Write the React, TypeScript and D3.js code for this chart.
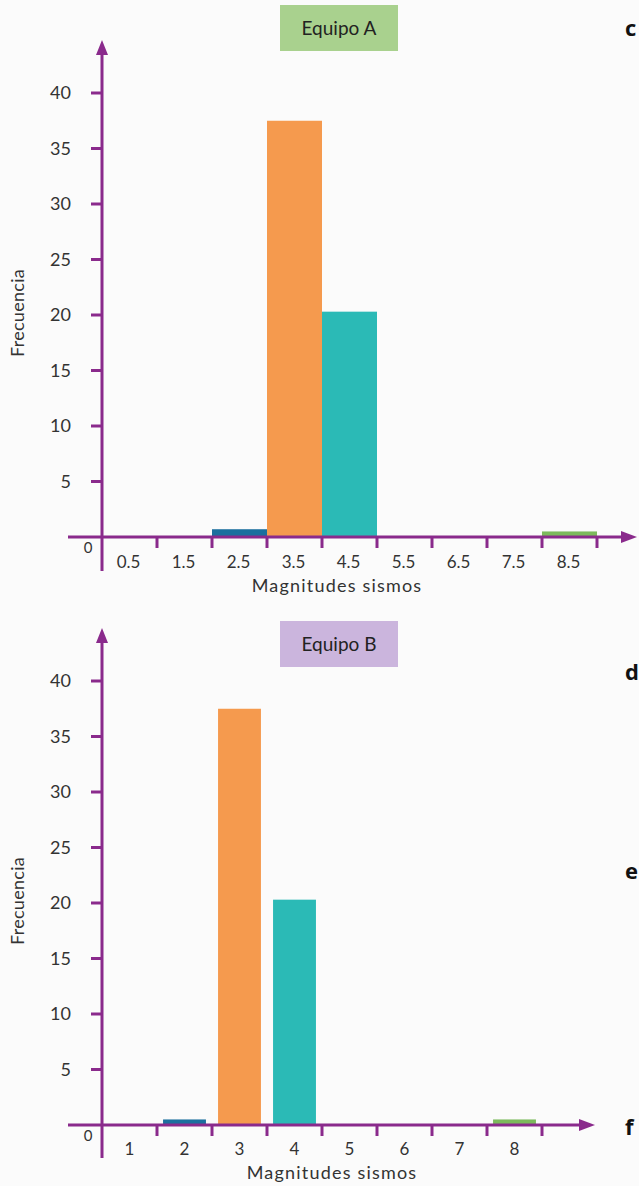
import React from "react";
import * as d3 from "d3";

// ---- Data ----
const yTicks = [5, 10, 15, 20, 25, 30, 35, 40];

// Equipo A: histogram bins [lo, lo+1], labelled by class mark
const binsA = [0, 1, 2, 3, 4, 5, 6, 7, 8];
const labelsA = ["0.5", "1.5", "2.5", "3.5", "4.5", "5.5", "6.5", "7.5", "8.5"];
const valuesA = [0, 0, 0.7, 37.5, 20.3, 0, 0, 0, 0.5];

// Equipo B: bar chart by magnitude category
const catsB = [1, 2, 3, 4, 5, 6, 7, 8];
const labelsB = ["1", "2", "3", "4", "5", "6", "7", "8"];
const valuesB = [0, 0.5, 37.5, 20.3, 0, 0, 0, 0.5];

const barColors = ["#1b6f9e", "#f59a4e", "#2bbab6", "#7cba5c"];
const colorFor = (i: number, peakIdx: number, lastIdx: number) => {
  if (i === peakIdx) return barColors[1];
  if (i === peakIdx + 1) return barColors[2];
  if (i === lastIdx) return barColors[3];
  return barColors[0];
};

const PURPLE = "#8a2a8c";
const FONT = "Lato, 'Open Sans', sans-serif";
const TEXT = "#333";
const W = 400;

function Axes({ x0, y0, yTop, xEnd, xStart, yBottom, yScale, title, titleFill, titleY }: any) {
  return (
    <g>
      <line x1={x0} x2={x0} y1={yTop + 10} y2={yBottom} stroke={PURPLE} strokeWidth={3} />
      <path d={`M${x0},${yTop} L${x0 - 6},${yTop + 15} L${x0 + 6},${yTop + 15} Z`} fill={PURPLE} />
      <line x1={xStart} x2={xEnd - 10} y1={y0} y2={y0} stroke={PURPLE} strokeWidth={3} />
      <path d={`M${xEnd},${y0} L${xEnd - 16},${y0 - 6} L${xEnd - 16},${y0 + 6} Z`} fill={PURPLE} />
      {yTicks.map((t) => (
        <g key={t}>
          <line x1={x0 - 11} x2={x0} y1={yScale(t)} y2={yScale(t)} stroke={PURPLE} strokeWidth={3} />
          <text x={x0 - 31} y={yScale(t)} dy="0.35em" textAnchor="end" fontSize={18} fill={TEXT} fontFamily={FONT} fontWeight={W}>
            {t}
          </text>
        </g>
      ))}
      <text x={x0 - 14} y={y0 + 11} dy="0.35em" textAnchor="middle" fontSize={15} fill={TEXT} fontFamily={FONT} fontWeight={W}>0</text>
      <text transform={`translate(18,${yScale(20) - 2}) rotate(-90)`} textAnchor="middle" dy="0.35em" fontSize={18} fill={TEXT} fontFamily={FONT} fontWeight={W} letterSpacing={0.3}>
        Frecuencia
      </text>
      <rect x={280} y={titleY} width={118} height={46} fill={titleFill} />
      <text x={339} y={titleY + 23} dy="0.35em" textAnchor="middle" fontSize={19} fill="#222" fontFamily={FONT}>{title}</text>
    </g>
  );
}

export default function App() {
  const yA = d3.scaleLinear().domain([0, 40]).range([537, 93]);
  const xA = d3.scaleLinear().domain([0, 9]).range([102, 597]);
  const yB = d3.scaleLinear().domain([0, 40]).range([1125, 681]);
  const xB = d3.scaleLinear().domain([0.5, 8.5]).range([102, 542]);

  const peakA = valuesA.indexOf(d3.max(valuesA) as number);
  const peakB = valuesB.indexOf(d3.max(valuesB) as number);

  return (
    <svg width={639} height={1186} style={{ position: "absolute", left: 0, top: 0, background: "#fbfbfb" }}>
      <rect width={639} height={1186} fill="#fbfbfb" />
      {/* ---- Chart A ---- */}
      {binsA.map((b, i) =>
        valuesA[i] > 0 ? (
          <rect key={i} x={xA(b)} width={xA(b + 1) - xA(b)} y={yA(valuesA[i])} height={yA(0) - yA(valuesA[i])}
            fill={colorFor(i, peakA, binsA.length - 1)} />
        ) : null
      )}
      <Axes x0={102} y0={537} yTop={40} xEnd={637} xStart={68} yBottom={571} yScale={yA}
        title="Equipo A" titleFill="#a9d18e" titleY={5} />
      {binsA.map((b) => (
        <line key={b} x1={xA(b + 1)} x2={xA(b + 1)} y1={537} y2={548} stroke={PURPLE} strokeWidth={3} />
      ))}
      {binsA.map((b, i) => (
        <text key={b} x={xA(b + 0.5) - 1} y={562} dy="0.35em" textAnchor="middle" fontSize={17} fill={TEXT} fontFamily={FONT} fontWeight={W}>
          {labelsA[i]}
        </text>
      ))}
      <text x={337} y={586} dy="0.35em" textAnchor="middle" fontSize={18} fill={TEXT} fontFamily={FONT} fontWeight={W} letterSpacing={1.2}>Magnitudes sismos</text>

      {/* ---- Chart B ---- */}
      {catsB.map((c, i) =>
        valuesB[i] > 0 ? (
          <rect key={c} x={xB(c - 0.39)} width={xB(c + 0.39) - xB(c - 0.39)} y={yB(valuesB[i])} height={yB(0) - yB(valuesB[i])}
            fill={colorFor(i, peakB, catsB.length - 1)} />
        ) : null
      )}
      <Axes x0={102} y0={1125} yTop={628} xEnd={595} xStart={68} yBottom={1158} yScale={yB}
        title="Equipo B" titleFill="#cbb5dd" titleY={621} />
      {catsB.map((c) => (
        <line key={c} x1={xB(c + 0.5)} x2={xB(c + 0.5)} y1={1125} y2={1136} stroke={PURPLE} strokeWidth={3} />
      ))}
      {catsB.map((c, i) => (
        <text key={c} x={xB(c)} y={1149} dy="0.35em" textAnchor="middle" fontSize={17} fill={TEXT} fontFamily={FONT} fontWeight={W}>
          {labelsB[i]}
        </text>
      ))}
      <text x={332} y={1173} dy="0.35em" textAnchor="middle" fontSize={18} fill={TEXT} fontFamily={FONT} fontWeight={W} letterSpacing={1.2}>Magnitudes sismos</text>

      {[["c", 28], ["d", 672], ["e", 871], ["f", 1127]].map(([l, y]) => (
        <text key={l as string} x={625} y={y as number} dy="0.35em" fontSize={22} fontWeight={700} fill="#111" fontFamily="'Open Sans', sans-serif">{l}</text>
      ))}
    </svg>
  );
}
